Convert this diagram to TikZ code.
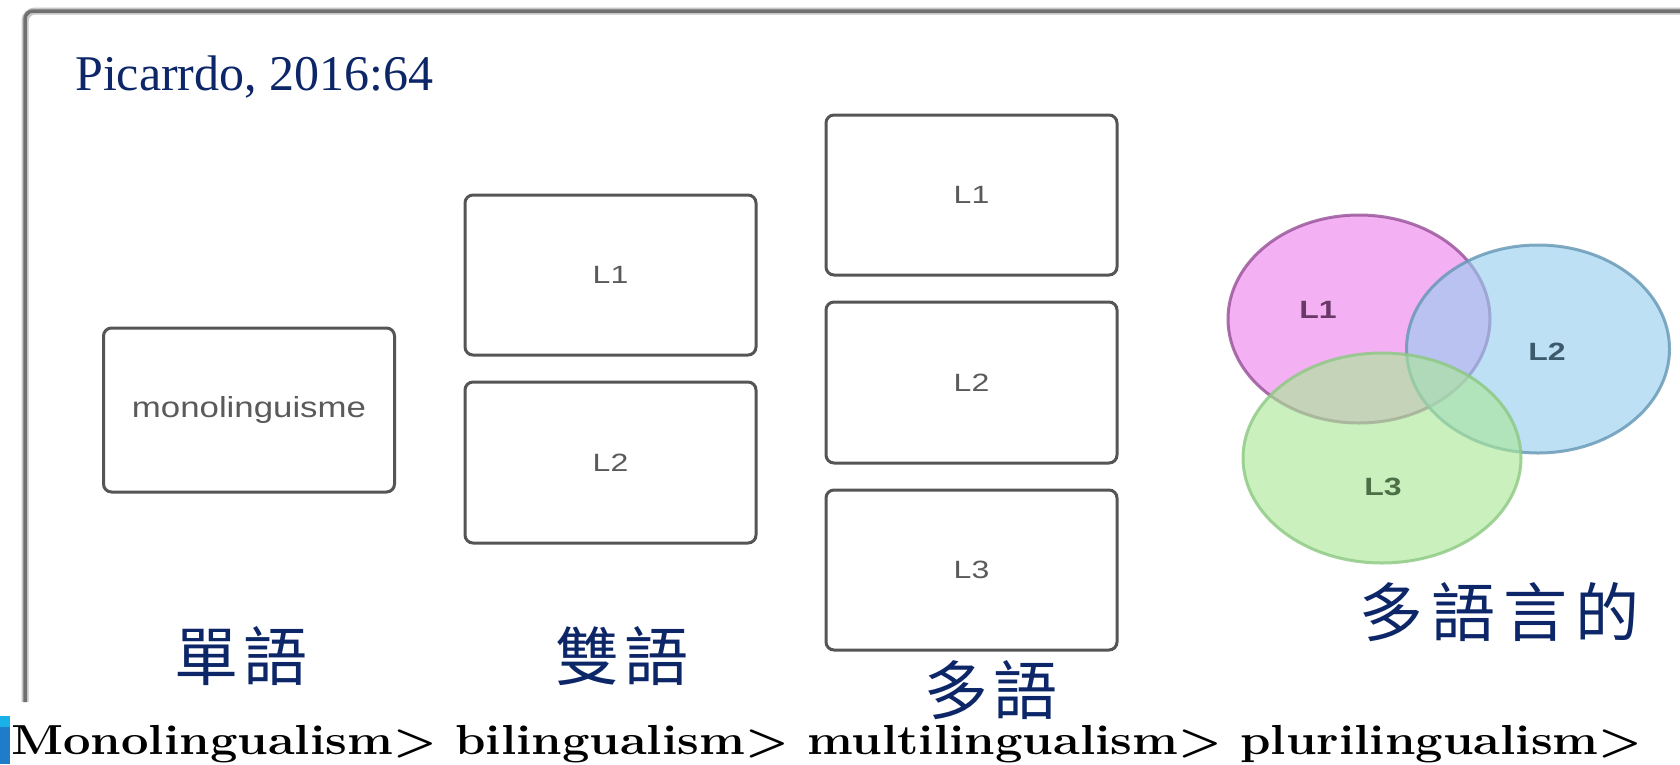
\documentclass[tikz,border=0pt]{standalone}
\usepackage{fontspec}
\setmainfont{Liberation Serif}
\newfontfamily\arialfont{Liberation Sans}
\newfontfamily\cjk{Noto Sans CJK TC}
\newfontfamily\lmbold{Latin Modern Roman}
\usetikzlibrary{shapes.geometric}

\definecolor{navy}{RGB}{12,38,104}
\definecolor{framegray}{RGB}{112,112,112}
\definecolor{boxgray}{RGB}{85,85,85}
\definecolor{labelgray}{RGB}{90,90,90}
\definecolor{pinkfill}{RGB}{236,130,236}
\definecolor{pinkedge}{RGB}{150,80,150}
\definecolor{bluefill}{RGB}{150,205,240}
\definecolor{blueedge}{RGB}{100,150,180}
\definecolor{greenfill}{RGB}{170,232,150}
\definecolor{greenedge}{RGB}{140,200,130}
\definecolor{barlight}{RGB}{26,176,232}
\definecolor{bardark}{RGB}{30,124,200}

\newcommand{\wide}[1]{\scalebox{1.28}[1]{#1}}

\tikzset{
  langbox/.style={draw=boxgray, line width=3pt, rounded corners=8pt,
    minimum width=291pt, minimum height=160pt, inner sep=0pt,
    text=labelgray, font=\arialfont\fontsize{25}{28}\selectfont},
  venn/.style={ellipse, line width=3pt, fill opacity=0.62, draw opacity=0.8,
    inner sep=0pt},
  vennlabel/.style={font=\arialfont\bfseries\fontsize{25}{28}\selectfont},
  cjklabel/.style={text=navy, font=\cjk\fontsize{64}{70}\selectfont, inner sep=0pt},
}

\begin{document}
\begin{tikzpicture}[x=1pt,y=-1pt]
\useasboundingbox (0,0) rectangle (1680,764);
\fill[white] (0,0) rectangle (1680,764);

% outer frame (left and top edges)
\draw[framegray!40, line width=7pt, rounded corners=10pt] (25,702) -- (25,11) -- (1690,11);
\draw[framegray, line width=3.5pt, rounded corners=8pt] (25,702) -- (25,11) -- (1690,11);

% citation
\node[anchor=base west, text=navy, font=\fontsize{50}{60}\selectfont, inner sep=0pt]
  (cite) at (75,90) {Picarrdo, 2016:64};

% monolingual
\node[langbox, minimum height=164pt] (mono) at (249,410)
  {\fontsize{29}{34}\selectfont\scalebox{1.2}[1]{monolinguisme}};

% bilingual
\node[langbox] (bi1) at (610.5,275) {\wide{L1}};
\node[langbox, minimum height=161pt] (bi2) at (610.5,462.5) {\wide{L2}};

% multilingual
\node[langbox] (mu1) at (971.5,195) {\wide{L1}};
\node[langbox, minimum height=161pt] (mu2) at (971.5,382.5) {\wide{L2}};
\node[langbox] (mu3) at (971.5,570) {\wide{L3}};

% plurilingual (overlapping sets)
\node[venn, fill=pinkfill, draw=pinkedge, minimum width=262pt, minimum height=208pt]
  (p1) at (1359,319) {};
\node[venn, fill=bluefill, draw=blueedge, minimum width=263pt, minimum height=208pt]
  (p2) at (1538,349) {};
\node[venn, fill=greenfill, draw=greenedge, minimum width=278pt, minimum height=210pt]
  (p3) at (1382,458) {};
\node[vennlabel, text=pinkedge!70!black] (p1l) at (1318,310) {\wide{L1}};
\node[vennlabel, text=blueedge!60!black] (p2l) at (1547,352) {\wide{L2}};
\node[vennlabel, text=greenedge!55!black] (p3l) at (1383,487) {\wide{L3}};

% Chinese captions
\node[cjklabel] (c1) at (241,656) {單\hspace{6pt}語};
\node[cjklabel] (c2) at (622,656) {雙\hspace{6pt}語};
\node[cjklabel] (c3) at (991,690) {多\hspace{6pt}語};
\node[cjklabel] (c4) at (1499,612) {多\hspace{8pt}語\hspace{8pt}言\hspace{8pt}的};

% side bar and bottom line
\fill[bardark] (0,727) rectangle (10,764);
\fill[barlight] (0,716) rectangle (10,727);
\node[anchor=base west, inner sep=0pt, font=\lmbold\bfseries\fontsize{42}{46}\selectfont]
  (bottom) at (11,754)
  {\scalebox{1.164}[1]{Monolingualism> bilingualism> multilingualism> plurilingualism>}};
\end{tikzpicture}
\end{document}
